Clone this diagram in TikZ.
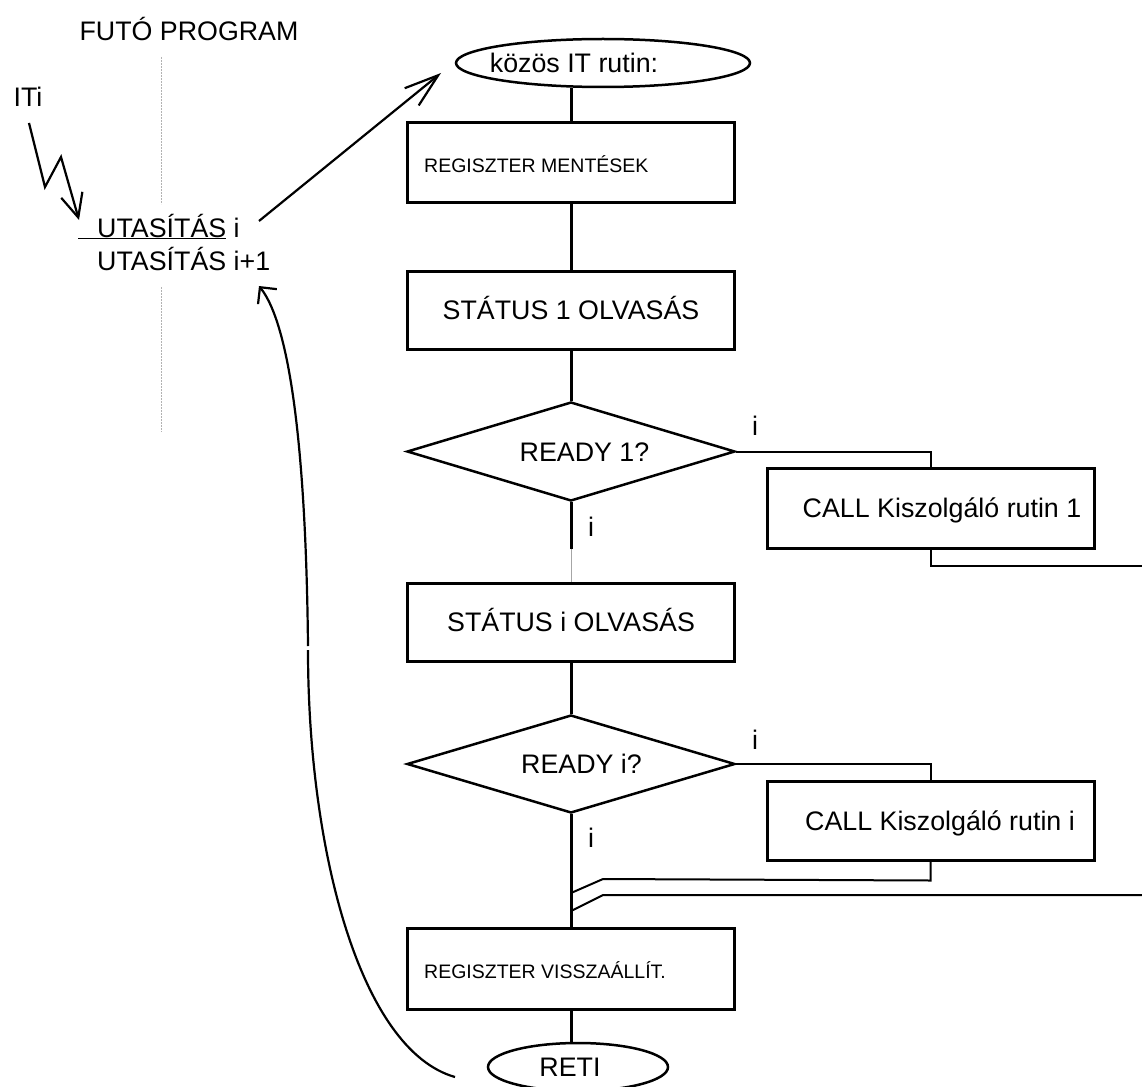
\documentclass[tikz,border=0pt]{standalone}
\usepackage{fontspec}
\setmainfont{Liberation Sans}
\usetikzlibrary{shapes.geometric,arrows.meta}
\begin{document}
\begin{tikzpicture}[x=1pt,y=-1pt,
  big/.style={font=\fontsize{26.8pt}{32pt}\selectfont, text height=19.2pt, text depth=0pt, inner sep=0pt},
  small/.style={font=\fontsize{19.5pt}{23pt}\selectfont, text height=14pt, text depth=0pt, inner sep=0pt},
  box/.style={draw, line width=3pt, minimum width=327pt, minimum height=79pt, inner sep=0pt, big},
  dec/.style={draw, diamond, line width=2.5pt, shape aspect=3.3, minimum width=328pt, minimum height=99pt, inner sep=0pt, big},
  oval/.style={draw, ellipse, line width=2.5pt, inner sep=0pt},
  flow/.style={line width=3pt},
  side/.style={line width=2pt},
  faint/.style={gray!70, line width=1pt},
  guide/.style={gray!60, line width=1pt, dash pattern=on 2pt off 1pt},
  arr/.style={line width=2.2pt}
]
\useasboundingbox (0,0) rectangle (1142,1086);

% left column
\node[big] (title) at (189,31) {FUTÓ PROGRAM};
\node[big] (iti) at (28,97) {ITi};
\node[big, anchor=base west] (u1) at (78,237) {\underline{\hspace*{19pt}UTASÍTÁS} i};
\node[big, anchor=base west] (u2) at (97,270) {UTASÍTÁS i+1};
\draw[guide] (161,57) -- (161,204);
\draw[guide] (161,287) -- (161,432);
\draw[arr, -{Straight Barb[angle=50:26pt]}] (29,123) -- (45,187) -- (61,157) -- (79,220);

% flow nodes
\node[oval, minimum width=294pt, minimum height=48pt] (e1) at (603,63) {};
\node[big] (te1) at (574,63) {közös IT rutin:};
\node[box] (b1) at (571,162.5) {};
\node[small, anchor=west] (tb1) at (424,166) {REGISZTER MENTÉSEK};
\node[box, minimum height=78pt] (b2) at (571,310) {STÁTUS 1 OLVASÁS};
\node[dec] (d1) at (571,451.5) {\hspace*{27pt}READY 1?};
\node[box, minimum height=80pt] (c1) at (930.5,508) {\hspace*{23pt}CALL Kiszolgáló rutin 1};
\node[box, minimum height=78pt] (b3) at (571,622) {STÁTUS i OLVASÁS};
\node[dec, minimum height=98pt] (d2) at (571,764) {\hspace*{21pt}READY i?};
\node[box] (c2) at (930.5,820.5) {\hspace*{19pt}CALL Kiszolgáló rutin i};
\node[box, minimum height=81pt] (b4) at (571,968.5) {};
\node[small, anchor=west] (tb4) at (424,971) {REGISZTER VISSZAÁLLÍT.};
\node[oval, minimum width=180pt, minimum height=48pt] (e2) at (578,1067) {};
\node[big] (te2) at (570,1067) {RETI};

% branch labels
\node[big] (l1) at (755,426) {i};
\node[big] (l2) at (591,527) {i};
\node[big] (l3) at (755,740) {i};
\node[big] (l4) at (591,838) {i};

% connectors
\draw[flow] (b1.north) -- (b1.north |- e1.south);
\draw[flow] (b1.south) -- (b2.north);
\draw[flow] (b2.south) -- (d1.north);
\coordinate (g1) at (571,549);
\draw[flow] (d1.south) -- (g1);
\draw[faint] (g1) -- (b3.north);
\draw[flow] (b3.south) -- (d2.north);
\draw[flow] (d2.south) -- (b4.north);
\draw[flow] (b4.south) -- (b4.south |- e2.north);

\draw[side] (d1.east) -| (c1.north);
\coordinate (o1) at (1142,566);
\draw[side] (c1.south) -- (c1.south |- o1) -- (o1);
\draw[side] (d2.east) -| (c2.north);
\coordinate (m1) at (571,893);
\draw[side] (c2.south) -- ++(0,19) -- (603,879) -- (m1);
\coordinate (i1) at (1142,895);
\coordinate (m2) at (571,911);
\draw[side] (i1) -- (603,895) -- (m2);

% interrupt arrows
\coordinate (a1s) at (259,221);
\coordinate (a1e) at (441,73);
\draw[arr, -{Straight Barb[angle=36:36pt]}] (a1s) -- (a1e);
\coordinate (r0) at (455,1077);
\coordinate (r1) at (308,650);
\coordinate (r2) at (308,646);
\coordinate (r3) at (259,286);
\draw[arr] (r0) .. controls (360,1050) and (308,850) .. (r1);
\draw[arr, -{Straight Barb[angle=90:17pt]}] (r2) .. controls (306,450) and (290,325) .. (r3);
\end{tikzpicture}
\end{document}
